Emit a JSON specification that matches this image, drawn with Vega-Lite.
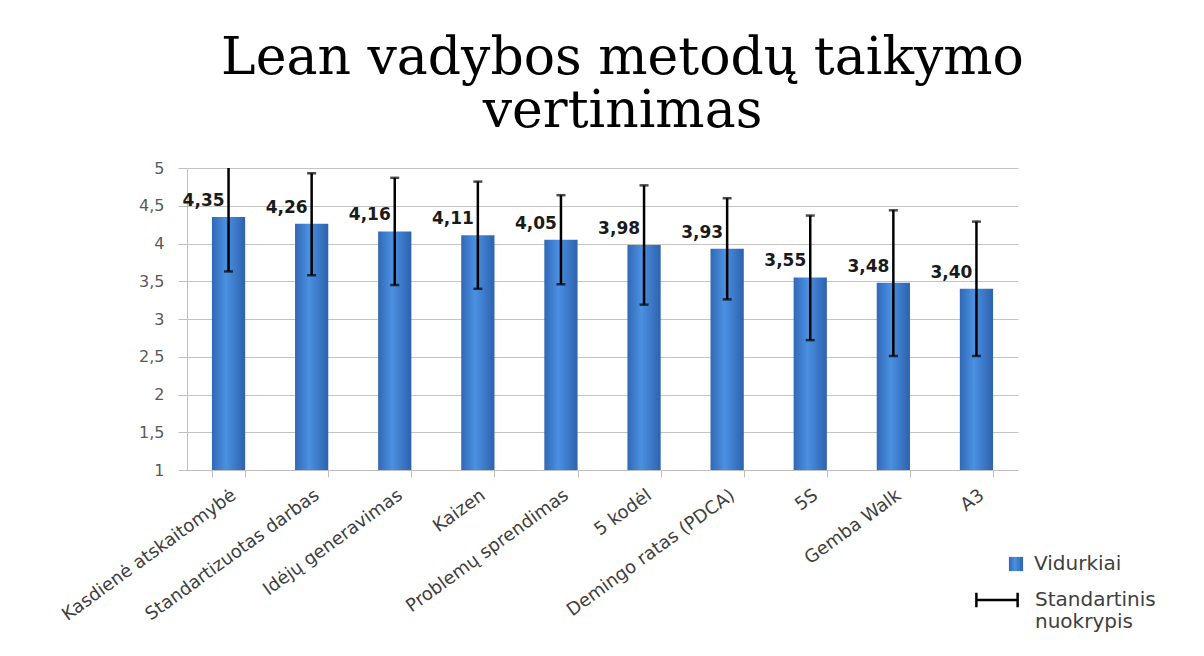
{
  "$schema": "https://vega.github.io/schema/vega-lite/v6.json",
  "width": 831,
  "height": 302,
  "autosize": {"type": "none"},
  "padding": {"left": 187, "top": 168, "right": 186, "bottom": 186},
  "background": "white",
  "config": {
    "locale": {"number": {"decimal": ",", "thousands": " ", "grouping": [3], "currency": ["", " €"]}},
    "view": {"stroke": null},
    "font": "DejaVu Sans",
    "axisY": {
      "title": null,
      "values": [1, 1.5, 2, 2.5, 3, 3.5, 4, 4.5, 5],
      "tickCount": 9,
      "format": "~g",
      "labelFont": "DejaVu Sans",
      "labelFontSize": 16,
      "labelColor": "#595959",
      "labelPadding": 14,
      "tickSize": 9,
      "tickColor": "#bfbfbf",
      "domainColor": "#bfbfbf",
      "gridColor": "#c4c4c4"
    }
  },
  "title": {
    "text": ["Lean vadybos metodų taikymo", "vertinimas"],
    "font": "DejaVu Serif",
    "fontSize": 52,
    "fontWeight": "normal",
    "color": "black",
    "lineHeight": 53,
    "anchor": "middle",
    "dx": 20,
    "offset": 22
  },
  "data": {
    "values": [
      {"metodas": "Kasdienė atskaitomybė", "vidurkis": 4.35, "apacia": 3.63, "virsus": 5.07},
      {"metodas": "Standartizuotas darbas", "vidurkis": 4.26, "apacia": 3.58, "virsus": 4.93},
      {"metodas": "Idėjų generavimas", "vidurkis": 4.16, "apacia": 3.45, "virsus": 4.87},
      {"metodas": "Kaizen", "vidurkis": 4.11, "apacia": 3.40, "virsus": 4.82},
      {"metodas": "Problemų sprendimas", "vidurkis": 4.05, "apacia": 3.46, "virsus": 4.64},
      {"metodas": "5 kodėl", "vidurkis": 3.98, "apacia": 3.19, "virsus": 4.77},
      {"metodas": "Demingo ratas (PDCA)", "vidurkis": 3.93, "apacia": 3.26, "virsus": 4.60},
      {"metodas": "5S", "vidurkis": 3.55, "apacia": 2.72, "virsus": 4.37},
      {"metodas": "Gemba Walk", "vidurkis": 3.48, "apacia": 2.51, "virsus": 4.44},
      {"metodas": "A3", "vidurkis": 3.40, "apacia": 2.51, "virsus": 4.29}
    ]
  },
  "encoding": {
    "x": {
      "field": "metodas",
      "type": "nominal",
      "sort": null,
      "scale": {"paddingInner": 0.6, "paddingOuter": 0.3},
      "axis": {
        "title": null,
        "labelAngle": -36,
        "tickBand": "extent",
        "tickSize": 7,
        "tickColor": "#bfbfbf",
        "domainColor": "#bfbfbf",
        "grid": false,
        "labelFont": "DejaVu Sans",
        "labelFontSize": 18,
        "labelColor": "#404040",
        "labelPadding": 9,
        "labelLimit": 400
      }
    }
  },
  "layer": [
    {
      "mark": {"type": "bar", "clip": true, "color": {"gradient": "linear", "x1": 0, "x2": 1, "y1": 0, "y2": 0, "stops": [{"offset": 0, "color": "#3168b6"}, {"offset": 0.42, "color": "#4b90e2"}, {"offset": 1, "color": "#2d62ae"}]}},
      "encoding": {
        "y": {
          "field": "vidurkis",
          "type": "quantitative",
          "scale": {"domain": [1, 5], "zero": false, "nice": false}
        },
        "opacity": {
          "datum": "Vidurkiai",
          "type": "nominal",
          "scale": {"range": [1]},
          "legend": {
            "orient": "none",
            "legendX": 819,
            "legendY": 386,
            "title": null,
            "symbolType": "square",
            "symbolSize": 200,
            "symbolStrokeWidth": 0,
            "symbolFillColor": "#3b7dd0",
            "symbolOpacity": 1,
            "labelOffset": 8,
            "labelFont": "DejaVu Sans",
            "labelFontSize": 20,
            "labelColor": "#404040"
          }
        }
      }
    },
    {
      "mark": {"type": "rule", "clip": true, "strokeWidth": 2.5},
      "encoding": {
        "y": {"field": "apacia", "type": "quantitative"},
        "y2": {"field": "virsus"},
        "stroke": {
          "datum": "Standartinis nuokrypis",
          "type": "nominal",
          "scale": {"range": ["black"]},
          "legend": {
            "orient": "none",
            "legendX": 788,
            "legendY": 410,
            "title": null,
            "symbolType": "M-1,0H1M-1,-0.35V0.35M1,-0.35V0.35",
            "symbolSize": 1700,
            "symbolStrokeWidth": 2.5,
            "symbolStrokeColor": "black",
            "symbolFillColor": "transparent",
            "labelExpr": "split(datum.label, ' ')",
            "labelOffset": 16,
            "labelFont": "DejaVu Sans",
            "labelFontSize": 20,
            "labelColor": "#404040",
            "labelLimit": 300
          }
        }
      }
    },
    {
      "mark": {"type": "tick", "clip": true, "size": 9, "thickness": 2.5, "color": "black"},
      "encoding": {"y": {"field": "apacia", "type": "quantitative"}}
    },
    {
      "mark": {"type": "tick", "clip": true, "size": 9, "thickness": 2.5, "color": "black"},
      "encoding": {"y": {"field": "virsus", "type": "quantitative"}}
    },
    {
      "mark": {"type": "text", "align": "right", "baseline": "alphabetic", "dx": -4, "dy": -11, "fontSize": 17, "fontWeight": "bold", "font": "DejaVu Sans", "color": "#1a1a1a"},
      "encoding": {
        "y": {"field": "vidurkis", "type": "quantitative"},
        "text": {"field": "vidurkis", "type": "quantitative", "format": ".2f"}
      }
    }
  ]
}
